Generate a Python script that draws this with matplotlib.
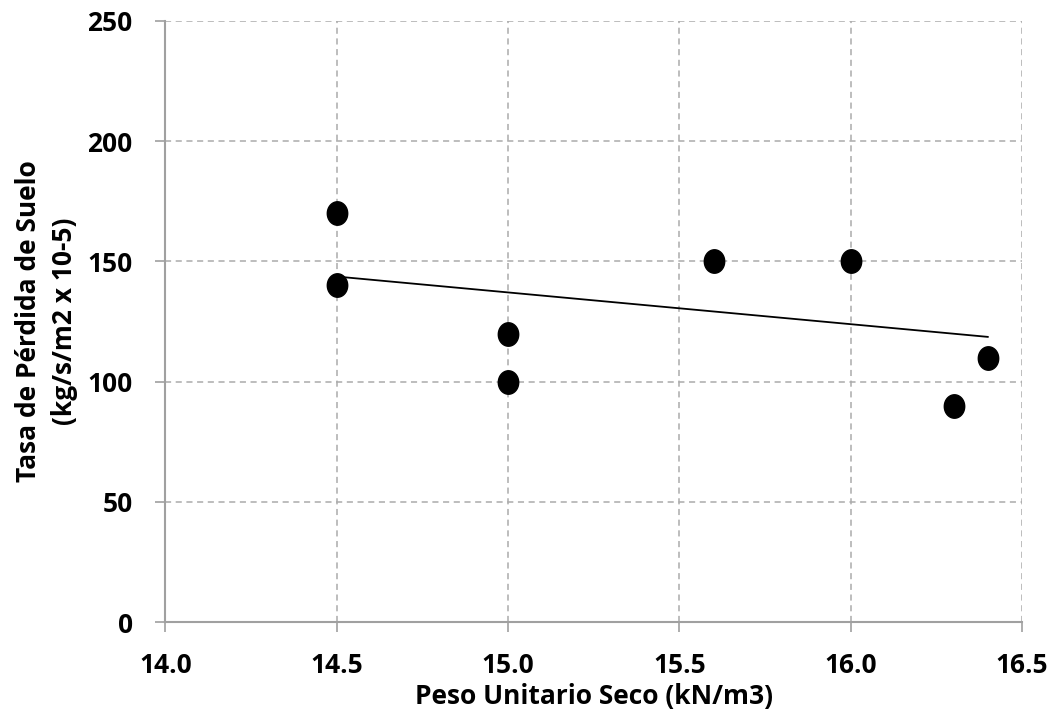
import numpy as np
import matplotlib.pyplot as plt
from matplotlib.path import Path

# Data
peso = [14.5, 14.5, 15.0, 15.0, 15.6, 16.0, 16.3, 16.4]
tasa = [170, 140, 120, 100, 150, 150, 90, 110]

# trendline end points as drawn
trend_x = [14.5, 16.4]
trend_y = [143.7, 118.6]

x_ticks = [14.0, 14.5, 15.0, 15.5, 16.0, 16.5]
y_ticks = [0, 50, 100, 150, 200, 250]

plt.rcParams['font.family'] = ['Open Sans', 'DejaVu Sans']

fig = plt.figure(figsize=(10.53, 7.09), dpi=100)
ax = fig.add_axes([0.157, 0.1227, 0.8136, 0.8477])

# slightly tall elliptical marker
t = np.linspace(0, 2 * np.pi, 60)
ellipse = Path(np.column_stack([0.87 * np.cos(t), np.sin(t)]), closed=True)

ax.plot(trend_x, trend_y, color='black', lw=1.3, zorder=3)
ax.scatter(peso, tasa, marker=ellipse, s=285, color='black', zorder=4)

ax.set_xlim(14.0, 16.5)
ax.set_ylim(0, 250)
ax.set_xticks(x_ticks)
ax.set_xticklabels([f'{v:.1f}' for v in x_ticks])
ax.set_yticks(y_ticks)

ax.grid(True, color='#ababab', linestyle=(0, (4, 3)), lw=1.1)
ax.set_axisbelow(True)
for side in ['top', 'right']:
    ax.spines[side].set_visible(False)
for side in ['left', 'bottom']:
    ax.spines[side].set_color('#a0a0a0')
    ax.spines[side].set_linewidth(1.5)
ax.tick_params(axis='both', direction='out', length=7.5, width=1.2, color='#a0a0a0',
               labelsize=19)
ax.tick_params(axis='x', pad=14)
ax.tick_params(axis='y', pad=16)
for lab in ax.get_xticklabels() + ax.get_yticklabels():
    lab.set_fontweight('bold')

ax.set_xlabel('Peso Unitario Seco (kN/m3)', fontsize=19, fontweight='bold', labelpad=3)
ax.set_ylabel('Tasa de Pérdida de Suelo\n(kg/s/m2 x 10-5)', fontsize=19,
              fontweight='bold', labelpad=7, linespacing=1.4)

fig.savefig('out.png', dpi=100)
